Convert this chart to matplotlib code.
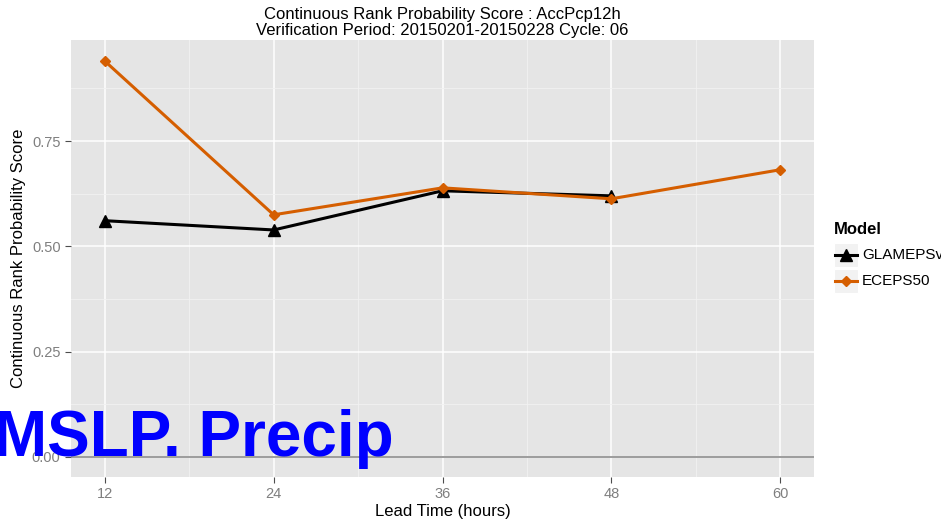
import matplotlib
matplotlib.use("Agg")
import matplotlib.pyplot as plt
from matplotlib.lines import Line2D
from matplotlib.patches import Rectangle

plt.rcParams['font.family'] = ['Liberation Sans', 'DejaVu Sans']

lead_times = [12, 24, 36, 48, 60]
glameps_lead = [12, 24, 36, 48]
glameps_crps = [0.561, 0.539, 0.632, 0.620]
eceps_crps = [0.940, 0.575, 0.639, 0.613, 0.682]
model_names = ["GLAMEPSv", "ECEPS50"]
model_colors = ["#000000", "#D55E00"]

W, H = 941, 520
fig = plt.figure(figsize=(W / 100, H / 100), dpi=100)
ax = fig.add_axes([71/W, 1-477/H, (814-71)/W, (477-40)/H])
ax.set_facecolor("#E5E5E5")
for s in ax.spines.values():
    s.set_visible(False)

ax.set_xlim(9.6, 62.4)
ax.set_ylim(-0.0475, 0.99)
ax.set_xticks(lead_times)
ax.set_xticks([18, 30, 42, 54], minor=True)
ax.set_yticks([0.0, 0.25, 0.5, 0.75])
ax.set_yticklabels(["0.00", "0.25", "0.50", "0.75"])
ax.set_yticks([0.125, 0.375, 0.625, 0.875], minor=True)
ax.grid(which="major", color="white", linewidth=1.1)
ax.grid(which="minor", color="#F2F2F2", linewidth=0.6)
ax.set_axisbelow(True)
ax.tick_params(which="major", colors="#4D4D4D", labelcolor="#7F7F7F", labelsize=10.5, length=4)
ax.tick_params(which="minor", length=0)

ax.axhline(0, color="#8C8C8C", linewidth=1.2, zorder=1)

ax.plot(glameps_lead, glameps_crps, color=model_colors[0], linewidth=2.2,
        marker="^", markersize=9, zorder=3)
ax.plot(lead_times, eceps_crps, color=model_colors[1], linewidth=2.2,
        marker="D", markersize=5.5, zorder=4)

ax.set_xlabel("Lead Time (hours)", fontsize=12, labelpad=2)
ax.set_ylabel("Continuous Rank Probability Score", fontsize=12, labelpad=4)

fig.text(442/W, 1-14/H, "Continuous Rank Probability Score : AccPcp12h",
         ha="center", va="center", fontsize=12)
fig.text(442/W, 1-31/H, "Verification Period: 20150201-20150228 Cycle: 06",
         ha="center", va="center", fontsize=12)

# legend: grey key boxes, line+marker keys and labels
fig.text(834/W, 1-230/H, "Model", fontsize=12, fontweight="bold",
         ha="left", va="center")
key_rows = [255, 281]
for name, color, marker, ms, yc in zip(model_names, model_colors, ["^", "D"],
                                       [9, 5.5], key_rows):
    fig.patches.append(Rectangle((834/W, 1-(yc+12)/H), 24/W, 24/H,
                                 transform=fig.transFigure, facecolor="#F2F2F2",
                                 edgecolor="white", linewidth=0.8))
    fig.add_artist(Line2D([835/W, 857/W], [1-yc/H, 1-yc/H],
                          transform=fig.transFigure, color=color, linewidth=2.2))
    fig.add_artist(Line2D([846/W], [1-yc/H], transform=fig.transFigure,
                          color=color, marker=marker, markersize=ms, linestyle="none"))
    fig.text(862/W, 1-yc/H, name, fontsize=11, ha="left", va="center")

fig.text(-6/W, 1-456/H, "MSLP. Precip", color="#0000FF", fontsize=46,
         fontweight="bold", ha="left", va="baseline")

fig.savefig("out.png", dpi=100)
